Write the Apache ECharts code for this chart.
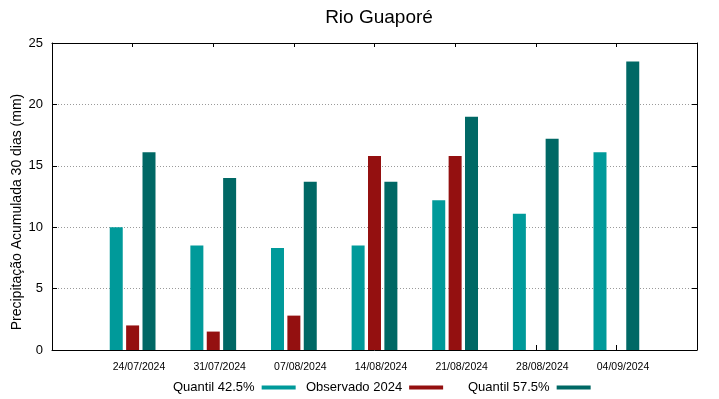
<!DOCTYPE html>
<html>
<head>
<meta charset="utf-8">
<script src="https://cdn.jsdelivr.net/npm/echarts@6/dist/echarts.min.js"></script>
<style>
  html, body { margin: 0; padding: 0; background: #fff; }
  #chart { width: 719px; height: 399px; }
</style>
</head>
<body>
<div id="chart"></div>
<script>
const dates = ['24/07/2024', '31/07/2024', '07/08/2024', '14/08/2024', '21/08/2024', '28/08/2024', '04/09/2024']
const quantil425 = [10.0, 8.5, 8.3, 8.5, 12.2, 11.1, 16.1]
const observado = [2.0, 1.5, 2.8, 15.8, 15.8, null, null]
const quantil575 = [16.1, 14.0, 13.7, 13.7, 19.0, 17.2, 23.5]

// the bars sit on a padded category axis (one empty slot each side)
const pad = arr => [null, ...arr, null]

const font = 'Liberation Sans, Arial, sans-serif'
const colors = { q425: '#009a9a', obs: '#941010', q575: '#006865' }

const chart = echarts.init(document.getElementById('chart'))

const legendBase = {
  top: 376,
  orient: 'horizontal',
  align: 'right',
  icon: 'rect',
  itemWidth: 34,
  itemHeight: 4,
  itemGap: 10,
  textStyle: { fontFamily: font, fontSize: 13, color: '#000', padding: [0, 2, 0, 0] }
}

const frameAxis = {
  axisLine: { onZero: false, lineStyle: { color: '#000', width: 1 } },
  axisLabel: { show: false },
  splitLine: { show: false }
}

chart.setOption({
  animation: false,
  textStyle: { fontFamily: font },
  title: {
    text: 'Rio Guaporé',
    left: 374,
    textAlign: 'center',
    top: 3,
    textStyle: { fontFamily: font, fontSize: 19, fontWeight: 'normal', color: '#000' }
  },
  legend: [
    Object.assign({}, legendBase, { left: 168, data: ['Quantil 42.5%'] }),
    Object.assign({}, legendBase, { left: 301, data: ['Observado 2024'] }),
    Object.assign({}, legendBase, { left: 463, data: ['Quantil 57.5%'] })
  ],
  grid: [
    { left: 52, right: 22, top: 43, bottom: 49 },
    { left: 139, right: 96, top: 43, bottom: 49 }
  ],
  xAxis: [
    Object.assign({
      type: 'category', gridIndex: 0, position: 'bottom', boundaryGap: false, data: pad(dates),
      axisTick: { inside: true, length: 5, lineStyle: { color: '#000' } }
    }, frameAxis),
    Object.assign({
      type: 'category', gridIndex: 0, position: 'top', boundaryGap: false, data: pad(dates),
      axisTick: { inside: true, length: 4, lineStyle: { color: '#000' } }
    }, frameAxis),
    {
      // tick labels only, spaced like the original
      type: 'category',
      gridIndex: 1,
      boundaryGap: false,
      data: dates,
      axisLine: { show: false, onZero: false },
      axisTick: { show: false },
      axisLabel: { color: '#000', fontSize: 10.5, margin: 12, interval: 0 }
    }
  ],
  yAxis: [
    {
      type: 'value',
      gridIndex: 0,
      position: 'left',
      min: 0,
      max: 25,
      interval: 5,
      axisLine: { show: true, onZero: false, lineStyle: { color: '#000' } },
      axisTick: { show: true, inside: true, length: 5, lineStyle: { color: '#000' } },
      axisLabel: { color: '#000', fontSize: 13, margin: 9 },
      splitLine: { show: true, lineStyle: { color: '#9a9a9a', type: [1, 2], width: 1 } }
    },
    {
      type: 'value',
      gridIndex: 0,
      position: 'right',
      min: 0,
      max: 25,
      interval: 5,
      axisLine: { show: true, onZero: false, lineStyle: { color: '#000' } },
      axisTick: { show: true, inside: true, length: 5, lineStyle: { color: '#000' } },
      axisLabel: { show: false },
      splitLine: { show: false }
    },
    { type: 'value', gridIndex: 1, show: false }
  ],
  graphic: [{
    type: 'text',
    x: 17,
    y: 212,
    rotation: Math.PI / 2,
    style: {
      text: 'Precipitação Acumulada 30 dias (mm)',
      font: '14px ' + font,
      fill: '#000',
      align: 'center',
      verticalAlign: 'middle'
    }
  }],
  series: [
    {
      name: 'Quantil 42.5%',
      type: 'bar',
      xAxisIndex: 0,
      yAxisIndex: 0,
      data: pad(quantil425),
      barWidth: 13,
      barGap: '26%',
      itemStyle: { color: colors.q425 }
    },
    {
      name: 'Observado 2024',
      type: 'bar',
      xAxisIndex: 0,
      yAxisIndex: 0,
      data: pad(observado),
      barWidth: 13,
      barGap: '26%',
      itemStyle: { color: colors.obs }
    },
    {
      name: 'Quantil 57.5%',
      type: 'bar',
      xAxisIndex: 0,
      yAxisIndex: 0,
      data: pad(quantil575),
      barWidth: 13,
      barGap: '26%',
      itemStyle: { color: colors.q575 }
    }
  ]
})
</script>
</body>
</html>
